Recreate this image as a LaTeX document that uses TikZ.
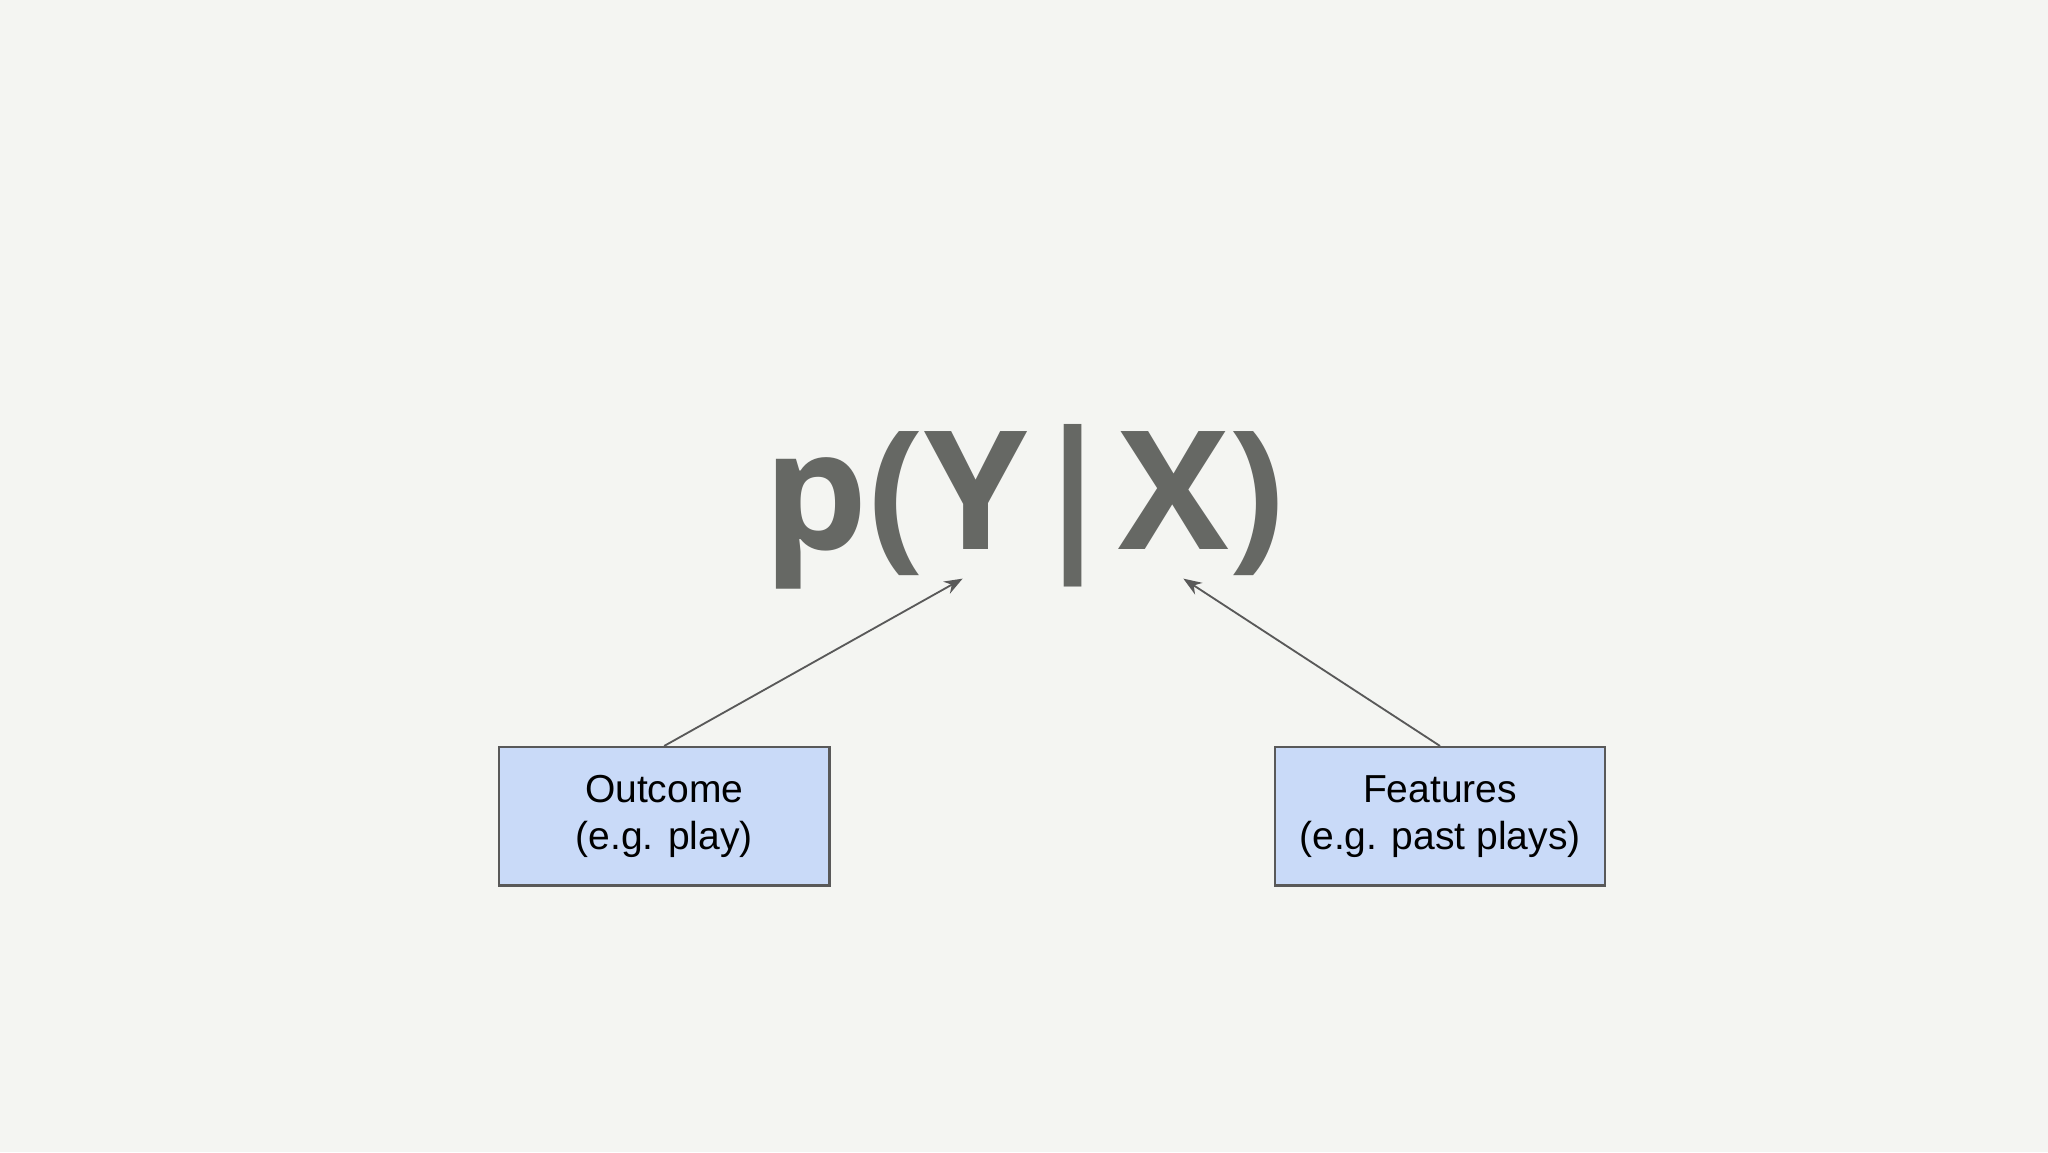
\documentclass[tikz,border=0pt]{standalone}
\usepackage{fontspec}
\setmainfont{Liberation Sans}
\newfontfamily\bigfont{Open Sans}
\definecolor{bg}{HTML}{F4F5F2}
\definecolor{boxfill}{HTML}{C9DAF8}
\definecolor{boxline}{HTML}{595959}
\definecolor{biggray}{HTML}{666864}
\usetikzlibrary{arrows.meta}
\tikzset{
  labelbox/.style={draw=boxline, fill=boxfill, line width=0.5pt, minimum width=2.53cm, minimum height=1.06cm, align=center, font=\fontsize{8.5pt}{10.3pt}\selectfont, text=black},
  conn/.style={draw=boxline, line width=0.4pt, -{Stealth[length=4pt,width=3pt]}}
}
\begin{document}
\begin{tikzpicture}
\useasboundingbox[fill=bg] (0,0) rectangle (15.68,8.82);
\node[anchor=base, text=biggray, font=\bigfont\bfseries\fontsize{36pt}{40pt}\selectfont, inner sep=0] (eq) at (7.84,4.61) {p(Y|X)};
\coordinate (ya) at (7.37,4.39);
\coordinate (xa) at (9.06,4.39);
\node[labelbox] (out) at (5.085,2.57) {\raisebox{-0.4mm}{Outcome}\\[0pt]\raisebox{-0.4mm}{(e.g. play)}};
\node[labelbox] (feat) at (11.025,2.57) {\raisebox{-0.4mm}{Features}\\[0pt]\raisebox{-0.4mm}{(e.g. past plays)}};
\draw[conn] (out.north) -- (ya);
\draw[conn] (feat.north) -- (xa);
\end{tikzpicture}
\end{document}
